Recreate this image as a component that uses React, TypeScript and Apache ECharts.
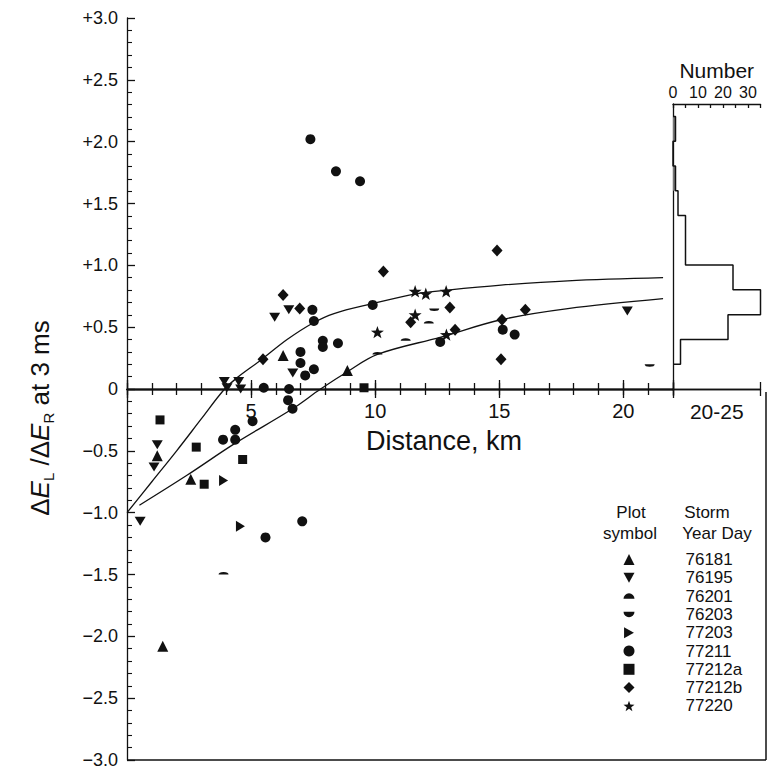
import React, { useEffect, useRef } from 'react';
import * as echarts from 'echarts';

const FONT = '"Liberation Sans", Arial, Helvetica, sans-serif';
const INK = '#111';

// ---------- data ----------
const storms = ['76181', '76195', '76201', '76203', '77203', '77211', '77212a', '77212b', '77220'];

const s76181 = [[6.29, 0.27], [8.88, 0.15], [1.22, -0.54], [2.57, -0.73], [1.44, -2.08]];
const s76195 = [[5.95, 0.58], [6.52, 0.64], [6.68, 0.13], [3.92, 0.06], [4.03, 0.01], [4.5, 0.06], [4.58, 0.0], [1.22, -0.45], [1.09, -0.63], [0.53, -1.07], [20.16, 0.63]];
const s76201 = [[10.09, 0.29], [11.23, 0.40], [12.16, 0.54], [3.89, -1.49]];
const s76203 = [[12.38, 0.64], [21.06, 0.19]];
const s77203 = [[3.89, -0.74], [4.57, -1.11]];
const s77211 = [[7.39, 2.02], [8.42, 1.76], [9.39, 1.68], [7.47, 0.64], [7.53, 0.55], [9.9, 0.68], [7.89, 0.39], [7.89, 0.34], [8.5, 0.37], [6.99, 0.30], [6.99, 0.21], [7.18, 0.11], [7.53, 0.16], [5.51, 0.01], [6.53, 0.0], [12.62, 0.38], [15.14, 0.48], [15.62, 0.44], [3.87, -0.41], [4.36, -0.33], [4.36, -0.41], [5.06, -0.26], [6.49, -0.09], [6.67, -0.16], [5.58, -1.2], [7.06, -1.07]];
const s77212a = [[9.55, 0.01], [1.33, -0.25], [2.79, -0.47], [3.11, -0.77], [4.66, -0.57]];
const s77212b = [[10.33, 0.95], [6.29, 0.76], [6.96, 0.65], [5.48, 0.24], [13.01, 0.66], [11.43, 0.54], [13.22, 0.48], [14.91, 1.12], [16.05, 0.64], [15.11, 0.56], [15.07, 0.24]];
const s77220 = [[10.09, 0.46], [11.61, 0.79], [12.04, 0.77], [12.86, 0.79], [11.61, 0.60], [12.87, 0.44]];

const upperCurve = [[0, -1.0], [1, -0.75], [2, -0.5], [3, -0.24], [3.89, -0.01], [4.43, 0.09], [5.37, 0.23], [6.45, 0.40], [7.46, 0.53], [8.34, 0.61], [9.89, 0.69], [11.64, 0.77], [12.92, 0.80], [15.07, 0.84], [17.76, 0.875], [21.6, 0.90]];
const lowerCurve = [[0.5, -0.94], [2.4, -0.7], [4.35, -0.44], [6.67, -0.16], [7.8, 0.0], [8.88, 0.14], [10.09, 0.28], [12.65, 0.42], [15.07, 0.56], [17.76, 0.65], [21.6, 0.73]];

const yTicks = [-3, -2.5, -2, -1.5, -1, -0.5, 0, 0.5, 1, 1.5, 2, 2.5, 3];
const xTickLabels = [5, 10, 15, 20];

// histogram of the 20-25 km group (bin edges from top to bottom, counts per bin)
const histEdges = [2.2, 2.0, 1.8, 1.6, 1.4, 1.0, 0.8, 0.6, 0.4, 0.2];
const histCounts = [1, 0, 1, 2, 5, 24, 35, 22, 3];
const histCountTicks = [0, 10, 20, 30];

// ---------- symbols ----------
const STAR = 'path://M10,0L12.35,6.76L19.51,6.91L13.8,11.24L15.88,18.09L10,14L4.12,18.09L6.2,11.24L0.49,6.91L7.65,6.76Z';
const symbolDefs: Record<string, { symbol: string; size: number | number[] }> = {
  '76181': { symbol: 'triangle', size: 11 },
  '76195': { symbol: 'path://M0,0L10,0L5,9Z', size: [11, 10] },
  '76201': { symbol: 'path://M0,5A5,5 0 0 1 10,5Z', size: [10, 5] },
  '76203': { symbol: 'path://M0,0A5,5 0 0 0 10,0Z', size: [10, 5] },
  '77203': { symbol: 'path://M0,0L9,5L0,10Z', size: [10, 11] },
  '77211': { symbol: 'circle', size: 10 },
  '77212a': { symbol: 'rect', size: 9 },
  '77212b': { symbol: 'diamond', size: [11, 12] },
  '77220': { symbol: STAR, size: 13 },
};
const stormData: Record<string, number[][]> = {
  '76181': s76181, '76195': s76195, '76201': s76201, '76203': s76203, '77203': s77203,
  '77211': s77211, '77212a': s77212a, '77212b': s77212b, '77220': s77220,
};

function yLabel(v: number): string {
  if (Math.abs(v) < 1e-9) return '0';
  return (v > 0 ? '+' : '\u2212') + Math.abs(v).toFixed(1);
}

// main grid geometry (pixels)
const G_TOP = 18;
const G_BOTTOM = 11;
const CHART_H = 771;

export default function App() {
  const ref = useRef<HTMLDivElement>(null);

  useEffect(() => {
    const chart = echarts.init(ref.current!, null, { renderer: 'svg' });

    const histOutline: number[][] = [];
    histCounts.forEach((c, i) => {
      const hi = histEdges[i];
      const lo = histEdges[i + 1];
      if (i === 0) histOutline.push([0, hi]);
      histOutline.push([c, hi], [c, lo]);
    });
    histOutline.push([0, histEdges[histEdges.length - 1]]);
    const shadedBins = histCounts
      .map((c, i) => [histEdges[i + 1], histEdges[i], c])
      .filter((b) => b[2] > 0 && b[2] <= 1);

    // place the distance axis at y = 0 of the value axis (offset from grid bottom)
    const yMin = yTicks[0];
    const yMax = yTicks[yTicks.length - 1];
    const gridH = CHART_H - G_TOP - G_BOTTOM;
    const zeroOffset = -gridH * ((0 - yMin) / (yMax - yMin));

    const lineStyle = { color: INK, width: 1.3 };
    const baseX = {
      gridIndex: 0, type: 'value', min: 0, max: 22, position: 'bottom', offset: zeroOffset,
      axisLine: { show: true, onZero: false, lineStyle },
      splitLine: { show: false },
    };

    const hdr = (text: string, x: number, y: number) => ({
      type: 'text', x, y,
      style: { text, fontSize: 17, fontFamily: FONT, fill: INK, align: 'center', verticalAlign: 'middle' },
    });

    const option: any = {
      animation: false,
      backgroundColor: '#fff',
      textStyle: { fontFamily: FONT, color: INK },
      grid: [
        { left: 127, right: 96, top: G_TOP, bottom: G_BOTTOM, containLabel: false, outerBoundsMode: 'none' },
        { left: 673, right: 8.5, top: 104, bottom: 382, containLabel: false, outerBoundsMode: 'none' },
      ],
      xAxis: [
        {
          ...baseX, interval: 1,
          axisTick: { show: true, inside: false, length: 6, lineStyle },
          axisLabel: {
            show: true, margin: 12, fontSize: 20, color: INK, fontFamily: FONT,
            formatter: (v: number) => (xTickLabels.includes(v) ? String(v) : ''),
          },
        },
        { ...baseX, interval: 1, axisTick: { show: true, inside: true, length: 6, lineStyle }, axisLabel: { show: false } },
        { ...baseX, interval: 5, axisTick: { show: true, inside: false, length: 9, lineStyle }, axisLabel: { show: false } },
        { ...baseX, interval: 5, axisTick: { show: true, inside: true, length: 9, lineStyle }, axisLabel: { show: false } },
        {
          gridIndex: 1, type: 'value', min: 0, max: 35, interval: 5, position: 'top',
          axisLine: { show: true, onZero: false, lineStyle },
          axisTick: { show: true, inside: true, length: 4, lineStyle },
          axisLabel: {
            show: true, margin: 4, fontSize: 16, color: INK, fontFamily: FONT,
            formatter: (v: number) => (histCountTicks.includes(v) ? String(v) : ''),
          },
          splitLine: { show: false },
          name: 'Number', nameLocation: 'middle', nameGap: 23,
          nameTextStyle: { fontSize: 21, color: INK, fontFamily: FONT },
        },
        {
          gridIndex: 1, type: 'value', min: 20, max: 25, interval: 5, position: 'bottom',
          axisLine: { show: true, onZero: false, lineStyle },
          axisTick: { show: true, inside: false, length: 7, lineStyle },
          axisLabel: { show: false },
          splitLine: { show: false },
          name: '20-25', nameLocation: 'middle', nameGap: 12,
          nameTextStyle: { fontSize: 21, color: INK, fontFamily: FONT },
        },
        {
          gridIndex: 1, type: 'value', min: 20, max: 25, interval: 5, position: 'bottom',
          axisLine: { show: true, onZero: false, lineStyle },
          axisTick: { show: true, inside: true, length: 7, lineStyle },
          axisLabel: { show: false },
          splitLine: { show: false },
        },
      ],
      yAxis: [
        {
          gridIndex: 0, type: 'value', min: yMin, max: yMax, interval: 0.5,
          axisLine: { show: true, onZero: false, lineStyle },
          axisTick: { show: true, inside: true, length: 8, lineStyle },
          minorTick: { show: true, splitNumber: 5, length: 5, lineStyle: { color: INK, width: 1.1 } },
          axisLabel: { show: true, margin: 9, fontSize: 18, color: INK, fontFamily: FONT, formatter: yLabel },
          splitLine: { show: false },
          minorSplitLine: { show: false },
        },
        {
          gridIndex: 1, type: 'value', min: 0, max: 2.3,
          axisLine: { show: true, onZero: false, lineStyle },
          axisTick: { show: false },
          axisLabel: { show: false },
          splitLine: { show: false },
        },
      ],
      legend: {
        data: storms,
        orient: 'vertical',
        left: 618.5,
        top: 546,
        itemWidth: 11,
        itemHeight: 11,
        itemGap: 1.3,
        selectedMode: false,
        symbolKeepAspect: true,
        formatter: (name: string) => `{g| }{t|${name}}`,
        textStyle: {
          rich: {
            g: { width: 46 },
            t: { fontSize: 17, fontFamily: FONT, color: INK, lineHeight: 17 },
          },
        },
      },
      series: [
        {
          type: 'line', xAxisIndex: 0, yAxisIndex: 0, data: upperCurve, smooth: 0.35,
          showSymbol: false, symbol: 'none', lineStyle: { color: INK, width: 1.3 }, z: 2, silent: true,
        },
        {
          type: 'line', xAxisIndex: 0, yAxisIndex: 0, data: lowerCurve, smooth: 0.35,
          showSymbol: false, symbol: 'none', lineStyle: { color: INK, width: 1.3 }, z: 2, silent: true,
        },
        ...storms.map((name) => ({
          type: 'scatter', name, xAxisIndex: 0, yAxisIndex: 0,
          data: stormData[name],
          symbol: symbolDefs[name].symbol,
          symbolSize: symbolDefs[name].size,
          symbolKeepAspect: true,
          itemStyle: { color: INK, opacity: 1 },
          z: 5,
        })),
        {
          type: 'custom', xAxisIndex: 4, yAxisIndex: 1, data: shadedBins, silent: true,
          renderItem: (params: any, api: any) => {
            const p0 = api.coord([0, api.value(1)]);
            const p1 = api.coord([api.value(2), api.value(0)]);
            return {
              type: 'rect',
              shape: { x: p0[0], y: p0[1], width: p1[0] - p0[0], height: p1[1] - p0[1] },
              style: { fill: '#777' },
            };
          },
        },
        {
          type: 'line', xAxisIndex: 4, yAxisIndex: 1, data: histOutline,
          showSymbol: false, symbol: 'none', lineStyle: { color: INK, width: 1.5 }, silent: true,
        },
      ],
      graphic: [
        {
          type: 'text', x: 40, y: 418, rotation: Math.PI / 2,
          style: {
            text: '{n|\u0394}{i|E}{s|L}{n| /\u0394}{i|E}{s|R}{n| at 3 ms}',
            align: 'center', verticalAlign: 'middle',
            rich: {
              n: { fontSize: 26, fontFamily: FONT, fill: INK, lineHeight: 32 },
              i: { fontSize: 26, fontFamily: FONT, fontStyle: 'italic', fill: INK, lineHeight: 32 },
              s: { fontSize: 15, fontFamily: FONT, fill: INK, lineHeight: 12, verticalAlign: 'bottom' },
            },
          },
        },
        {
          type: 'text', x: 366, y: 441,
          style: { text: 'Distance, km', fontSize: 27, fontFamily: FONT, fill: INK, align: 'left', verticalAlign: 'middle' },
        },
        hdr('Plot', 631, 512),
        hdr('symbol', 630, 533),
        hdr('Storm', 707, 512),
        hdr('Year Day', 717, 533),
        { type: 'line', shape: { x1: 127, y1: 760, x2: 766, y2: 760 }, style: { stroke: INK, lineWidth: 1.5 } },
        { type: 'line', shape: { x1: 766, y1: 392, x2: 766, y2: 760 }, style: { stroke: INK, lineWidth: 1.5 } },
      ],
    };

    chart.setOption(option);
    return () => chart.dispose();
  }, []);

  return <div ref={ref} style={{ position: 'fixed', left: 0, top: 0, width: 769, height: 771 }} />;
}
